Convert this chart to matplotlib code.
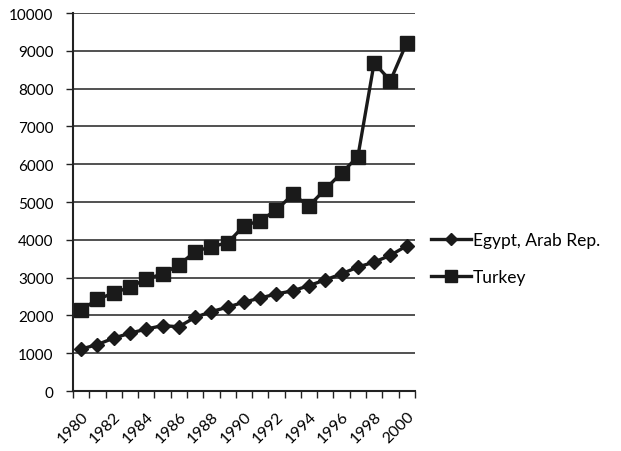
import matplotlib.pyplot as plt
import numpy as np

years = list(range(1980, 2001))
egypt = [1110, 1230, 1400, 1530, 1640, 1730, 1700, 1950, 2100, 2220, 2350,
         2460, 2570, 2650, 2790, 2940, 3100, 3280, 3410, 3590, 3840]
turkey = [2140, 2430, 2590, 2750, 2960, 3100, 3330, 3690, 3820, 3920, 4370,
          4510, 4790, 5200, 4900, 5340, 5770, 6200, 8680, 8210, 9210]
yticks = list(range(0, 10001, 1000))

plt.rcParams['font.family'] = ['Lato', 'DejaVu Sans']
plt.rcParams['font.size'] = 11

fig = plt.figure(figsize=(6.21, 4.52), dpi=100)
ax = fig.add_axes([0.1176, 0.1327, 0.5504, 0.8363])

ax.plot(years, egypt, color='#1a1a1a', lw=2.4, marker='D', ms=7.5,
        label='Egypt, Arab Rep.')
ax.plot(years, turkey, color='#1a1a1a', lw=2.4, marker='s', ms=10,
        label='Turkey')

ax.set_ylim(0, 10000)
ax.set_xlim(1979.5, 2000.5)
ax.set_yticks(yticks)
ax.yaxis.grid(True, color='#333333', lw=1.2)
ax.set_axisbelow(True)

ax.set_xticks(years[::2])
ax.set_xticks(np.arange(1979.5, 2001, 1), minor=True)
ax.tick_params(axis='x', which='major', length=0, pad=13, labelsize=11.5)
ax.tick_params(axis='x', which='minor', length=5, width=1, color='#222222')
ax.tick_params(axis='y', length=5, width=1, color='#222222', pad=9)
for lbl in ax.get_xticklabels():
    lbl.set_rotation(45)
    lbl.set_ha('right')
    lbl.set_rotation_mode('anchor')

for side in ('top', 'right'):
    ax.spines[side].set_visible(False)
for side in ('left', 'bottom'):
    ax.spines[side].set_linewidth(1.5)
    ax.spines[side].set_color('#222222')

fig.legend(loc='center left', bbox_to_anchor=(0.68, 0.425), frameon=False,
           handlelength=2.3, handletextpad=0.1, labelspacing=1.2,
           borderpad=0, fontsize=12.5, markerscale=0.8)

fig.savefig('out.png', dpi=100)
